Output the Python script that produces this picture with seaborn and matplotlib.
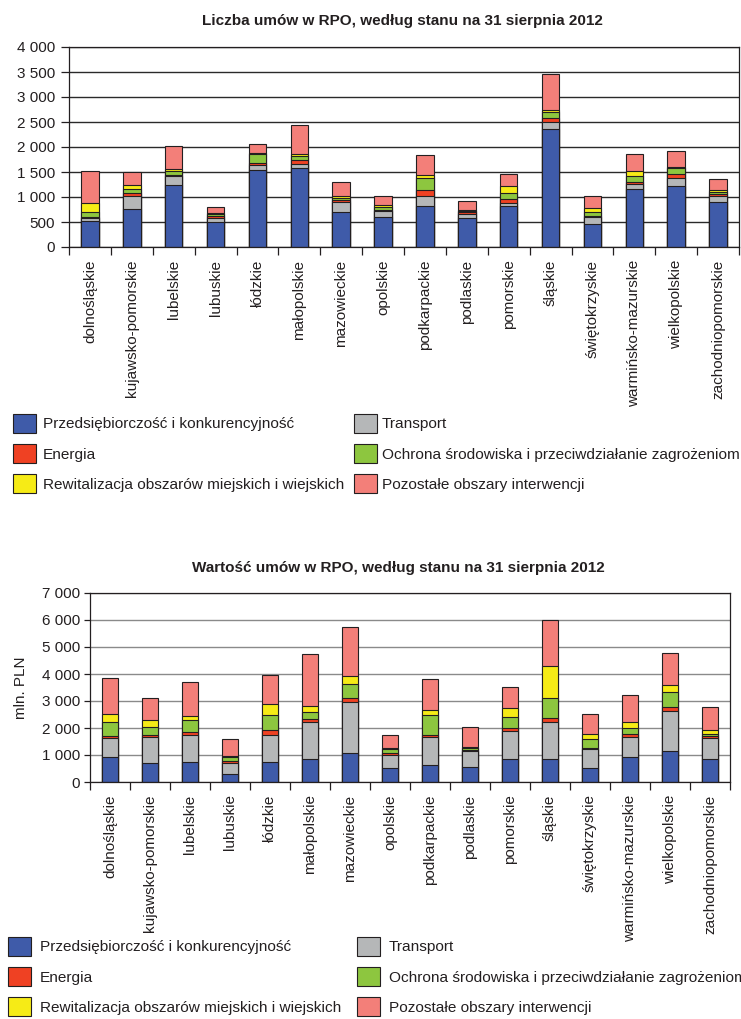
import numpy as np
import matplotlib
matplotlib.use("Agg")
import matplotlib.pyplot as plt
import seaborn as sns
from matplotlib.patches import Patch
from matplotlib.ticker import FuncFormatter, MultipleLocator, FixedLocator

# ---------------- data ----------------
regions = ["dolnośląskie", "kujawsko-pomorskie", "lubelskie", "lubuskie", "łódzkie",
           "małopolskie", "mazowieckie", "opolskie", "podkarpackie", "podlaskie",
           "pomorskie", "śląskie", "świętokrzyskie", "warmińsko-mazurskie",
           "wielkopolskie", "zachodniopomorskie"]

series_names = ["Przedsiębiorczość i konkurencyjność", "Transport", "Energia",
                "Ochrona środowiska i przeciwdziałanie zagrożeniom",
                "Rewitalizacja obszarów miejskich i wiejskich",
                "Pozostałe obszary interwencji"]

# Liczba umów (count)
cnt_przeds = [520, 767, 1247, 493, 1547, 1580, 693, 607, 827, 573, 827, 2360, 467, 1160, 1213, 907]
cnt_transport = [60, 253, 166, 80, 86, 87, 214, 106, 193, 94, 53, 140, 133, 100, 174, 120]
cnt_energia = [30, 60, 34, 40, 47, 66, 33, 27, 113, 26, 80, 80, 13, 47, 80, 40]
cnt_ochrona = [100, 87, 80, 47, 187, 80, 47, 60, 247, 34, 120, 120, 80, 106, 120, 26]
cnt_rewital = [170, 80, 33, 20, 13, 54, 33, 33, 67, 20, 147, 47, 80, 114, 20, 40]
cnt_pozostale = [640, 246, 467, 127, 180, 573, 280, 194, 386, 166, 240, 706, 254, 333, 306, 227]

# Wartość umów (mln PLN)
val_przeds = [933, 688, 749, 295, 749, 847, 1081, 503, 626, 553, 860, 847, 503, 933, 1142, 847]
val_transport = [688, 982, 995, 405, 982, 1376, 1891, 479, 1032, 577, 1031, 1388, 725, 737, 1486, 786]
val_energia = [74, 61, 98, 86, 209, 98, 147, 74, 86, 49, 123, 147, 25, 98, 147, 86]
val_ochrona = [540, 307, 454, 123, 541, 258, 528, 160, 737, 98, 405, 713, 343, 246, 565, 62]
val_rewital = [270, 246, 148, 61, 393, 233, 270, 61, 172, 25, 307, 1203, 185, 221, 270, 135]
val_pozostale = [1351, 823, 1265, 614, 1080, 1940, 1818, 454, 1154, 724, 798, 1695, 749, 982, 1179, 847]

colors = ["#3F5BA9", "#B5B7B8", "#EF4123", "#8DC63F", "#F6EB16", "#F37F79"]
EDGE = "#231F20"

# ---------------- style ----------------
sns.set_theme(style="white")
plt.rcParams["font.family"] = ["Liberation Sans", "DejaVu Sans"]
plt.rcParams["axes.linewidth"] = 0.9

W, H = 741, 1019
fig = plt.figure(figsize=(W / 100, H / 100), dpi=100)


def px_axes(left, top, right, bottom):
    return fig.add_axes([left / W, 1 - bottom / H, (right - left) / W, (bottom - top) / H])


def fmt(v, _):
    return f"{int(round(v)):,}".replace(",", " ")


def stacked(ax, layers, width, ymax, step, gridcolor, ytick_len, ypad, xpad):
    data = np.array(layers, dtype=float)
    cum = np.cumsum(data, axis=0)
    ax.set_axisbelow(True)
    ax.yaxis.grid(True, color=gridcolor, linewidth=1.0)
    for i in range(len(layers) - 1, -1, -1):
        sns.barplot(x=regions, y=cum[i], order=regions, color=colors[i], saturation=1,
                    width=width, edgecolor=EDGE, linewidth=0.8, ax=ax)
    ax.set_xlim(-0.5, len(regions) - 0.5)
    ax.set_ylim(0, ymax)
    ax.yaxis.set_major_locator(MultipleLocator(step))
    ax.yaxis.set_major_formatter(FuncFormatter(fmt))
    ax.set_xlabel("")
    ax.set_ylabel("")
    ax.tick_params(axis="y", which="major", left=True, length=ytick_len, width=0.9,
                   color=EDGE, labelsize=11, pad=ypad, labelcolor="#231F20")
    ax.set_xticks(range(len(regions)))
    ax.set_xticklabels(regions, rotation=90, fontsize=11, color="#231F20")
    ax.tick_params(axis="x", which="major", length=0, pad=xpad)
    ax.xaxis.set_minor_locator(FixedLocator(np.arange(-0.5, len(regions), 1.0)))
    ax.tick_params(axis="x", which="minor", bottom=True, length=6, width=0.9, color=EDGE)
    for s in ax.spines.values():
        s.set_visible(True)
        s.set_color(EDGE)
        s.set_linewidth(0.9)


def legend(x_col1, x_col2, top, pad1, pad2):
    handles = [Patch(facecolor=c, edgecolor=EDGE, linewidth=0.8) for c in colors]
    order1 = [0, 2, 4]
    order2 = [1, 3, 5]
    common = dict(loc="upper left", bbox_transform=fig.transFigure, frameon=False,
                  borderpad=0, borderaxespad=0, handlelength=1.5, handleheight=1.5,
                  labelspacing=0.73, fontsize=11.1)
    leg1 = fig.legend([handles[i] for i in order1], [series_names[i] for i in order1],
                      bbox_to_anchor=(x_col1 / W, 1 - top / H), handletextpad=pad1, **common)
    leg2 = fig.legend([handles[i] for i in order2], [series_names[i] for i in order2],
                      bbox_to_anchor=(x_col2 / W, 1 - top / H), handletextpad=pad2, **common)
    for lg in (leg1, leg2):
        for t in lg.get_texts():
            t.set_color("#231F20")


# ---------------- top chart ----------------
ax1 = px_axes(69, 47, 739, 247)
stacked(ax1, [cnt_przeds, cnt_transport, cnt_energia, cnt_ochrona, cnt_rewital, cnt_pozostale],
        0.42, 4000, 500, "#2a2a2a", 6, 4, 9)
fig.text(402 / W, 1 - 21 / H, "Liczba umów w RPO, według stanu na 31 sierpnia 2012",
         ha="center", va="center", fontsize=11, fontweight="bold", color="#231F20")
legend(13, 354, 414, 0.45, 0.3)

# ---------------- bottom chart ----------------
ax2 = px_axes(90, 593, 730, 782)
stacked(ax2, [val_przeds, val_transport, val_energia, val_ochrona, val_rewital, val_pozostale],
        0.41, 7000, 1000, "#8a8a8a", 4, 3, 9)
ax2.set_ylabel("mln. PLN", fontsize=11, color="#231F20", labelpad=10)
fig.text(398 / W, 1 - 568 / H, "Wartość umów w RPO, według stanu na 31 sierpnia 2012",
         ha="center", va="center", fontsize=11, fontweight="bold", color="#231F20")
legend(8, 357, 937, 0.55, 0.55)

fig.savefig("out.png", dpi=100)
